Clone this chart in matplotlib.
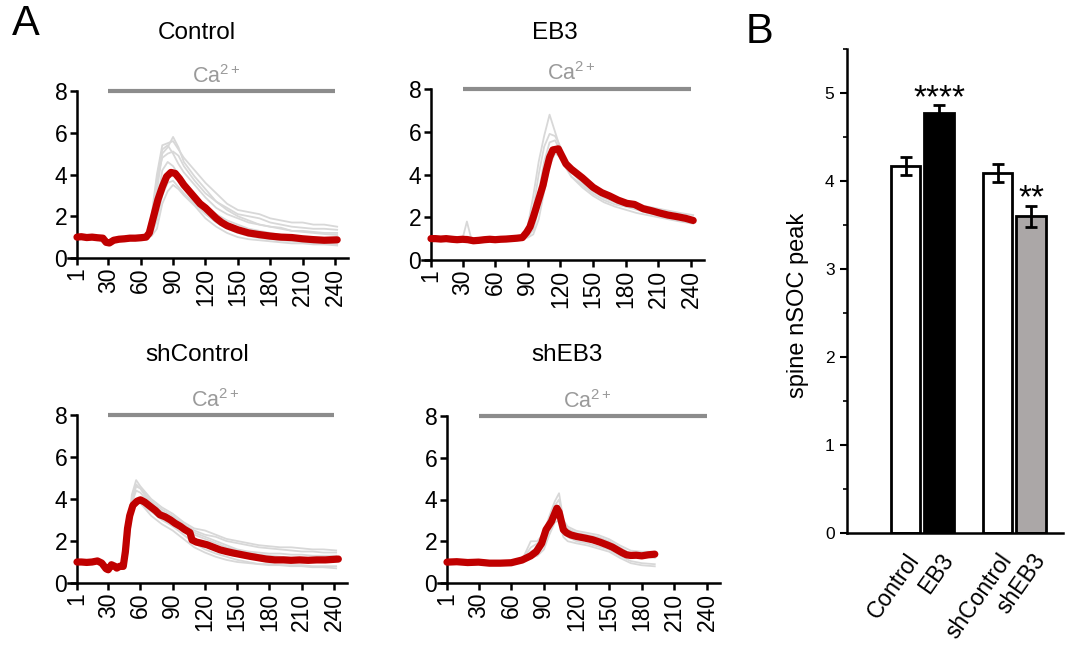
import matplotlib
matplotlib.use('Agg')
import matplotlib.pyplot as plt

plt.rcParams['font.family'] = ['Liberation Sans', 'DejaVu Sans']
plt.rcParams['mathtext.fontset'] = 'custom'
plt.rcParams['mathtext.rm'] = 'Liberation Sans'
plt.rcParams['mathtext.default'] = 'regular'

# ---- panel A data: mean trace (red) and single cell traces (grey) ----
ctrl_t = [1, 5, 10, 15, 20, 25, 28, 31, 35, 40, 45, 50, 55, 60, 65, 68, 72, 76, 80, 84, 88, 92, 96, 100,
          105, 110, 115, 120, 125, 130, 135, 140, 145, 150, 160, 170, 180, 190, 200, 210, 220, 230, 242]
ctrl_mean = [1.0, 1.02, 0.98, 1.0, 0.97, 0.95, 0.75, 0.72, 0.85, 0.9, 0.92, 0.95, 0.95, 0.97, 1.0, 1.2, 2.0,
             2.8, 3.4, 3.9, 4.1, 4.05, 3.8, 3.5, 3.2, 2.9, 2.6, 2.4, 2.15, 1.9, 1.7, 1.55, 1.45, 1.35, 1.2,
             1.12, 1.05, 1.0, 0.98, 0.92, 0.88, 0.85, 0.87]
ctrl_gt = [1, 10, 20, 28, 35, 45, 55, 65, 70, 75, 80, 85, 90, 95, 100, 110, 120, 130, 140, 150, 160, 170,
           180, 190, 200, 210, 220, 230, 242]
ctrl_cells = [
    [1.05, 1.1, 1.0, 0.8, 0.95, 1.0, 1.05, 1.1, 2.0, 4.0, 5.4, 5.5, 5.6, 5.2, 4.8, 4.2, 3.6, 3.1, 2.6, 2.3,
     2.2, 2.1, 1.9, 1.8, 1.7, 1.7, 1.6, 1.6, 1.5],
    [1.0, 0.95, 1.0, 0.7, 0.9, 0.95, 1.0, 1.0, 1.5, 3.2, 5.0, 5.3, 5.8, 5.3, 4.6, 3.9, 3.3, 2.7, 2.3, 2.0,
     1.8, 1.6, 1.5, 1.45, 1.3, 1.25, 1.2, 1.15, 1.1],
    [0.95, 1.0, 0.9, 0.65, 0.85, 0.9, 0.95, 1.0, 1.2, 2.5, 4.2, 4.6, 4.4, 4.0, 3.6, 3.0, 2.5, 2.1, 1.8, 1.6,
     1.4, 1.3, 1.2, 1.1, 1.0, 0.95, 0.9, 0.9, 0.85],
    [1.0, 1.0, 0.95, 0.75, 0.9, 0.9, 1.0, 1.05, 1.1, 1.8, 3.0, 3.6, 3.7, 3.4, 3.1, 2.6, 2.1, 1.7, 1.4, 1.2,
     1.05, 0.95, 0.9, 0.85, 0.8, 0.75, 0.7, 0.7, 0.65],
    [1.0, 1.0, 1.0, 0.8, 0.95, 1.0, 1.0, 1.1, 1.3, 3.6, 5.2, 5.4, 5.0, 4.5, 4.1, 3.5, 2.9, 2.4, 2.1, 1.9,
     1.7, 1.6, 1.5, 1.4, 1.3, 1.3, 1.25, 1.2, 1.2],
    [1.0, 0.95, 0.95, 0.7, 0.85, 0.95, 0.95, 1.0, 1.05, 1.4, 2.6, 3.2, 3.5, 3.3, 3.0, 2.5, 1.9, 1.5, 1.2, 1.0,
     0.9, 0.85, 0.8, 0.75, 0.7, 0.7, 0.65, 0.65, 0.6],
    [1.0, 1.05, 1.0, 0.75, 0.9, 0.95, 1.0, 1.05, 1.8, 3.8, 4.8, 5.0, 5.1, 4.9, 4.4, 3.7, 3.1, 2.7, 2.4, 2.1,
     2.0, 1.9, 1.7, 1.6, 1.5, 1.45, 1.4, 1.4, 1.35],
]

eb3_t = [1, 5, 10, 15, 20, 25, 30, 35, 40, 45, 50, 55, 60, 65, 70, 75, 80, 85, 89, 92, 95, 98, 101, 104,
         107, 110, 113, 118, 122, 125, 130, 135, 140, 150, 158, 165, 173, 181, 188, 196, 204, 211, 219, 227,
         235, 242]
eb3_mean = [1.0, 1.0, 0.98, 1.0, 0.97, 0.95, 0.97, 0.95, 0.9, 0.92, 0.95, 0.97, 0.95, 0.97, 0.98, 1.0, 1.02,
            1.05, 1.3, 1.55, 2.0, 2.5, 3.0, 3.5, 4.2, 4.8, 5.15, 5.2, 4.8, 4.5, 4.25, 4.05, 3.85, 3.4, 3.15,
            3.0, 2.8, 2.65, 2.6, 2.4, 2.3, 2.2, 2.1, 2.03, 1.95, 1.85]
eb3_gt = [1, 10, 20, 30, 34, 38, 45, 55, 65, 75, 85, 90, 95, 100, 105, 110, 115, 120, 125, 130, 140, 150,
          160, 170, 180, 190, 200, 210, 220, 230, 242]
eb3_cells = [
    [1.1, 1.05, 1.1, 1.0, 1.8, 1.0, 0.95, 1.0, 1.0, 1.05, 1.1, 1.6, 3.0, 4.6, 5.8, 6.8, 6.0, 5.2, 4.7, 4.3,
     3.8, 3.4, 3.1, 2.9, 2.7, 2.6, 2.5, 2.4, 2.3, 2.2, 2.1],
    [1.0, 0.95, 1.0, 0.9, 1.0, 0.85, 0.85, 0.95, 0.95, 1.0, 1.05, 1.3, 2.4, 4.0, 5.3, 5.9, 5.8, 5.3, 4.6, 4.2,
     3.7, 3.3, 3.0, 2.8, 2.6, 2.5, 2.3, 2.2, 2.1, 2.0, 1.9],
    [0.95, 1.0, 0.95, 0.9, 1.0, 0.8, 0.9, 0.9, 1.0, 1.0, 1.0, 1.1, 1.4, 2.4, 3.8, 4.9, 5.3, 5.0, 4.5, 4.1,
     3.6, 3.2, 2.9, 2.7, 2.5, 2.35, 2.2, 2.1, 2.0, 1.9, 1.75],
    [1.05, 1.0, 1.0, 0.95, 1.1, 0.9, 0.95, 1.0, 1.0, 1.0, 1.05, 1.2, 1.8, 3.2, 4.6, 5.5, 5.6, 5.1, 4.4, 3.9,
     3.5, 3.1, 2.8, 2.6, 2.5, 2.4, 2.2, 2.1, 2.0, 1.9, 1.8],
    [1.0, 1.0, 0.95, 0.85, 0.9, 0.8, 0.85, 0.9, 0.95, 1.0, 1.0, 1.05, 1.2, 1.9, 3.2, 4.4, 5.0, 4.8, 4.3, 3.9,
     3.4, 3.0, 2.7, 2.5, 2.35, 2.2, 2.1, 2.0, 1.9, 1.8, 1.7],
]

shc_t = [1, 5, 10, 15, 20, 24, 28, 30, 33, 36, 38, 41, 44, 46, 48, 50, 53, 57, 60, 64, 69, 74, 78, 83, 88,
         92, 97, 101, 106, 108, 112, 116, 122, 128, 134, 140, 146, 154, 162, 170, 177, 185, 193, 200, 208,
         216, 224, 232, 244]
shc_mean = [1.0, 1.0, 0.98, 1.0, 1.05, 0.95, 0.68, 0.63, 0.87, 0.8, 0.71, 0.8, 0.79, 1.5, 2.6, 3.2, 3.7, 3.9,
            3.96, 3.85, 3.65, 3.45, 3.25, 3.15, 3.0, 2.85, 2.7, 2.55, 2.4, 2.05, 1.95, 1.9, 1.82, 1.7, 1.58,
            1.5, 1.43, 1.35, 1.27, 1.2, 1.14, 1.1, 1.1, 1.08, 1.1, 1.08, 1.1, 1.1, 1.14]
shc_gt = [1, 10, 20, 28, 33, 38, 44, 48, 52, 56, 60, 65, 70, 80, 90, 100, 110, 120, 130, 140, 150, 160,
          170, 180, 190, 200, 210, 220, 230, 242]
shc_cells = [
    [1.0, 1.0, 1.05, 0.6, 0.8, 0.65, 0.75, 2.0, 4.2, 4.9, 4.6, 4.3, 4.0, 3.6, 3.3, 2.9, 2.6, 2.5, 2.3, 2.1,
     2.0, 1.9, 1.8, 1.75, 1.7, 1.7, 1.65, 1.6, 1.6, 1.55],
    [1.0, 0.95, 1.0, 0.55, 0.85, 0.7, 0.7, 1.6, 3.8, 4.4, 4.3, 4.0, 3.7, 3.3, 3.0, 2.7, 2.3, 2.1, 1.9, 1.7,
     1.55, 1.45, 1.35, 1.3, 1.25, 1.2, 1.2, 1.15, 1.15, 1.1],
    [1.0, 1.0, 1.0, 0.65, 0.9, 0.75, 0.8, 1.4, 3.4, 3.9, 3.8, 3.6, 3.4, 3.0, 2.7, 2.3, 1.9, 1.6, 1.4, 1.25,
     1.1, 1.0, 0.9, 0.85, 0.85, 0.8, 0.8, 0.75, 0.75, 0.7],
    [1.0, 1.0, 1.05, 0.7, 0.85, 0.7, 0.75, 1.9, 3.9, 4.6, 4.5, 4.2, 3.9, 3.5, 3.2, 2.8, 2.4, 2.2, 2.0, 1.8,
     1.6, 1.5, 1.45, 1.4, 1.4, 1.35, 1.35, 1.3, 1.3, 1.3],
    [1.0, 0.95, 1.0, 0.6, 0.8, 0.65, 0.7, 1.5, 3.5, 4.0, 3.8, 3.5, 3.2, 2.8, 2.5, 2.1, 1.7, 1.45, 1.25, 1.1,
     1.0, 0.95, 0.9, 0.9, 0.85, 0.85, 0.85, 0.8, 0.8, 0.8],
    [1.0, 1.0, 1.0, 0.65, 0.85, 0.7, 0.75, 1.7, 4.0, 4.7, 4.5, 4.1, 3.8, 3.4, 3.1, 2.8, 2.5, 2.3, 2.2, 2.0,
     1.9, 1.8, 1.7, 1.65, 1.6, 1.55, 1.5, 1.5, 1.45, 1.45],
]

sheb3_t = [1, 10, 20, 30, 40, 50, 60, 70, 74, 78, 83, 88, 92, 97, 102, 104, 108, 111, 115, 120, 128, 135,
           142, 148, 153, 157, 162, 166, 170, 175, 180, 186, 192]
sheb3_mean = [1.0, 1.02, 0.98, 1.0, 0.95, 0.95, 0.97, 1.1, 1.2, 1.3, 1.5, 1.9, 2.55, 2.95, 3.58, 3.4, 2.55,
              2.4, 2.3, 2.23, 2.15, 2.07, 1.95, 1.83, 1.72, 1.6, 1.45, 1.35, 1.32, 1.33, 1.3, 1.35, 1.38]
sheb3_gt = [1, 10, 20, 30, 40, 50, 60, 70, 78, 84, 90, 95, 100, 104, 108, 112, 120, 130, 140, 150, 160,
            170, 180, 192]
sheb3_cells = [
    [1.0, 1.05, 1.0, 1.0, 0.95, 0.95, 1.0, 1.1, 2.0, 2.0, 2.4, 3.2, 3.9, 4.3, 3.0, 2.7, 2.5, 2.4, 2.3, 2.1,
     1.8, 1.55, 1.5, 1.5],
    [0.95, 1.0, 1.0, 0.95, 0.9, 0.95, 1.0, 1.15, 1.5, 1.7, 2.1, 2.8, 3.4, 3.7, 2.7, 2.5, 2.3, 2.2, 2.0, 1.8,
     1.5, 1.3, 1.25, 1.3],
    [1.0, 1.0, 0.95, 0.95, 0.95, 0.9, 0.95, 1.05, 1.3, 1.4, 1.8, 2.5, 3.1, 3.2, 2.4, 2.2, 2.0, 1.9, 1.75, 1.6,
     1.3, 1.05, 0.95, 0.9],
    [1.0, 0.95, 1.0, 1.0, 0.95, 0.95, 1.0, 1.1, 1.7, 1.9, 2.2, 3.0, 3.7, 4.0, 2.8, 2.6, 2.4, 2.3, 2.2, 2.0,
     1.7, 1.4, 1.3, 1.2],
    [0.95, 1.0, 0.95, 0.95, 0.9, 0.9, 0.95, 1.05, 1.2, 1.3, 1.6, 2.3, 2.9, 3.0, 2.2, 2.0, 1.9, 1.8, 1.65, 1.5,
     1.2, 0.95, 0.85, 0.8],
]

xticks_a = [1, 30, 60, 90, 120, 150, 180, 210, 240]
yticks_a = [0, 2, 4, 6, 8]
ca_start, ca_end = 30, 240

# ---- panel B data ----
groups = ['Control', 'EB3', 'shControl', 'shEB3']
peak = [4.17, 4.77, 4.09, 3.60]
peak_err = [0.10, 0.09, 0.10, 0.12]
bar_colors = ['white', 'black', 'white', '#aba7a7']
signif = ['', '****', '', '**']

W, H = 1070, 648
fig = plt.figure(figsize=(W / 100, H / 100), dpi=100)

XMIN, XMAX = -7, 252
RED = '#c00000'
GREY = '#d8d8d8'


def trace_axes(x1, x240, y0, y8):
    s = (x240 - x1) / 239.0
    left = x1 + (XMIN - 1) * s
    right = x1 + (XMAX - 1) * s
    return fig.add_axes([left / W, 1 - y0 / H, (right - left) / W, (y0 - y8) / H])


panels = [
    ('Control', (77, 335, 258, 91), (197, 33), ctrl_t, ctrl_mean, ctrl_gt, ctrl_cells),
    ('EB3', (431, 691, 260, 89), (555, 33), eb3_t, eb3_mean, eb3_gt, eb3_cells),
    ('shControl', (77, 334, 583, 415), (197, 355), shc_t, shc_mean, shc_gt, shc_cells),
    ('shEB3', (447, 707, 583, 416), (567, 355), sheb3_t, sheb3_mean, sheb3_gt, sheb3_cells),
]

for name, box, tpos, t, mean, gt, cells in panels:
    ax = trace_axes(*box)
    for c in cells:
        ax.plot(gt, c, color=GREY, lw=1.3, zorder=1)
    ax.plot(t, mean, color=RED, lw=5.2, solid_capstyle='round', zorder=3)
    ax.set_xlim(XMIN, XMAX)
    ax.set_ylim(0, 8)
    ax.spines['top'].set_visible(False)
    ax.spines['right'].set_visible(False)
    ax.spines['left'].set_position(('data', 1))
    for sp in ('left', 'bottom'):
        ax.spines[sp].set_linewidth(1.8)
    ax.set_xticks(xticks_a)
    ax.set_xticklabels([str(v) for v in xticks_a], rotation=90)
    ax.set_yticks(yticks_a)
    ax.tick_params(direction='out', length=5, width=1.8, labelsize=16.5, pad=2)
    # Ca2+ application bar
    ax.plot([ca_start, ca_end], [8, 8], color='#8c8c8c', lw=3, clip_on=False, solid_capstyle='butt')
    ax.text(130, 8.7, 'Ca$^{2+}$', color='#9a9a9a', fontsize=15.5, ha='center', va='center')
    fig.text(tpos[0] / W, 1 - tpos[1] / H, name, fontsize=17.5, ha='center', va='center')

# ---- panel B ----
bx0, bx1, by0, by_top = 847, 1063, 533, 49
axb = fig.add_axes([bx0 / W, 1 - by0 / H, (bx1 - bx0) / W, (by0 - by_top) / H])
pos = [1.75, 2.75, 4.5, 5.5]
axb.bar(pos, peak, width=0.88, color=bar_colors, edgecolor='black', linewidth=2, zorder=2)
axb.errorbar(pos, peak, yerr=peak_err, fmt='none', ecolor='black', elinewidth=2,
             capsize=4, capthick=2, zorder=3)
for p, v, e, s in zip(pos, peak, peak_err, signif):
    if s:
        axb.text(p, v + e - 0.02, s, ha='center', va='baseline', fontsize=24)
axb.set_xlim(0, 6.45)
axb.set_ylim(0, 5.5)
axb.spines['top'].set_visible(False)
axb.spines['right'].set_visible(False)
for sp in ('left', 'bottom'):
    axb.spines[sp].set_linewidth(1.8)
axb.set_yticks([0, 1, 2, 3, 4, 5])
axb.set_yticks([0.5, 1.5, 2.5, 3.5, 4.5, 5.5], minor=True)
axb.tick_params(axis='y', which='major', direction='out', length=5, width=1.5, labelsize=12.5, pad=4)
axb.tick_params(axis='y', which='minor', direction='out', length=3, width=1.2)
axb.set_xticks(pos)
axb.set_xticklabels(groups, rotation=55, ha='right', rotation_mode='anchor', fontsize=16.5)
axb.tick_params(axis='x', length=0, pad=12)
axb.set_ylabel('spine nSOC peak', fontsize=17)
axb.yaxis.set_label_coords(-0.175, 0.47)

fig.text(12 / W, 1 - 4 / H, 'A', fontsize=30, ha='left', va='top')
fig.text(746 / W, 1 - 12 / H, 'B', fontsize=30, ha='left', va='top')

fig.savefig('out.png', dpi=100)
